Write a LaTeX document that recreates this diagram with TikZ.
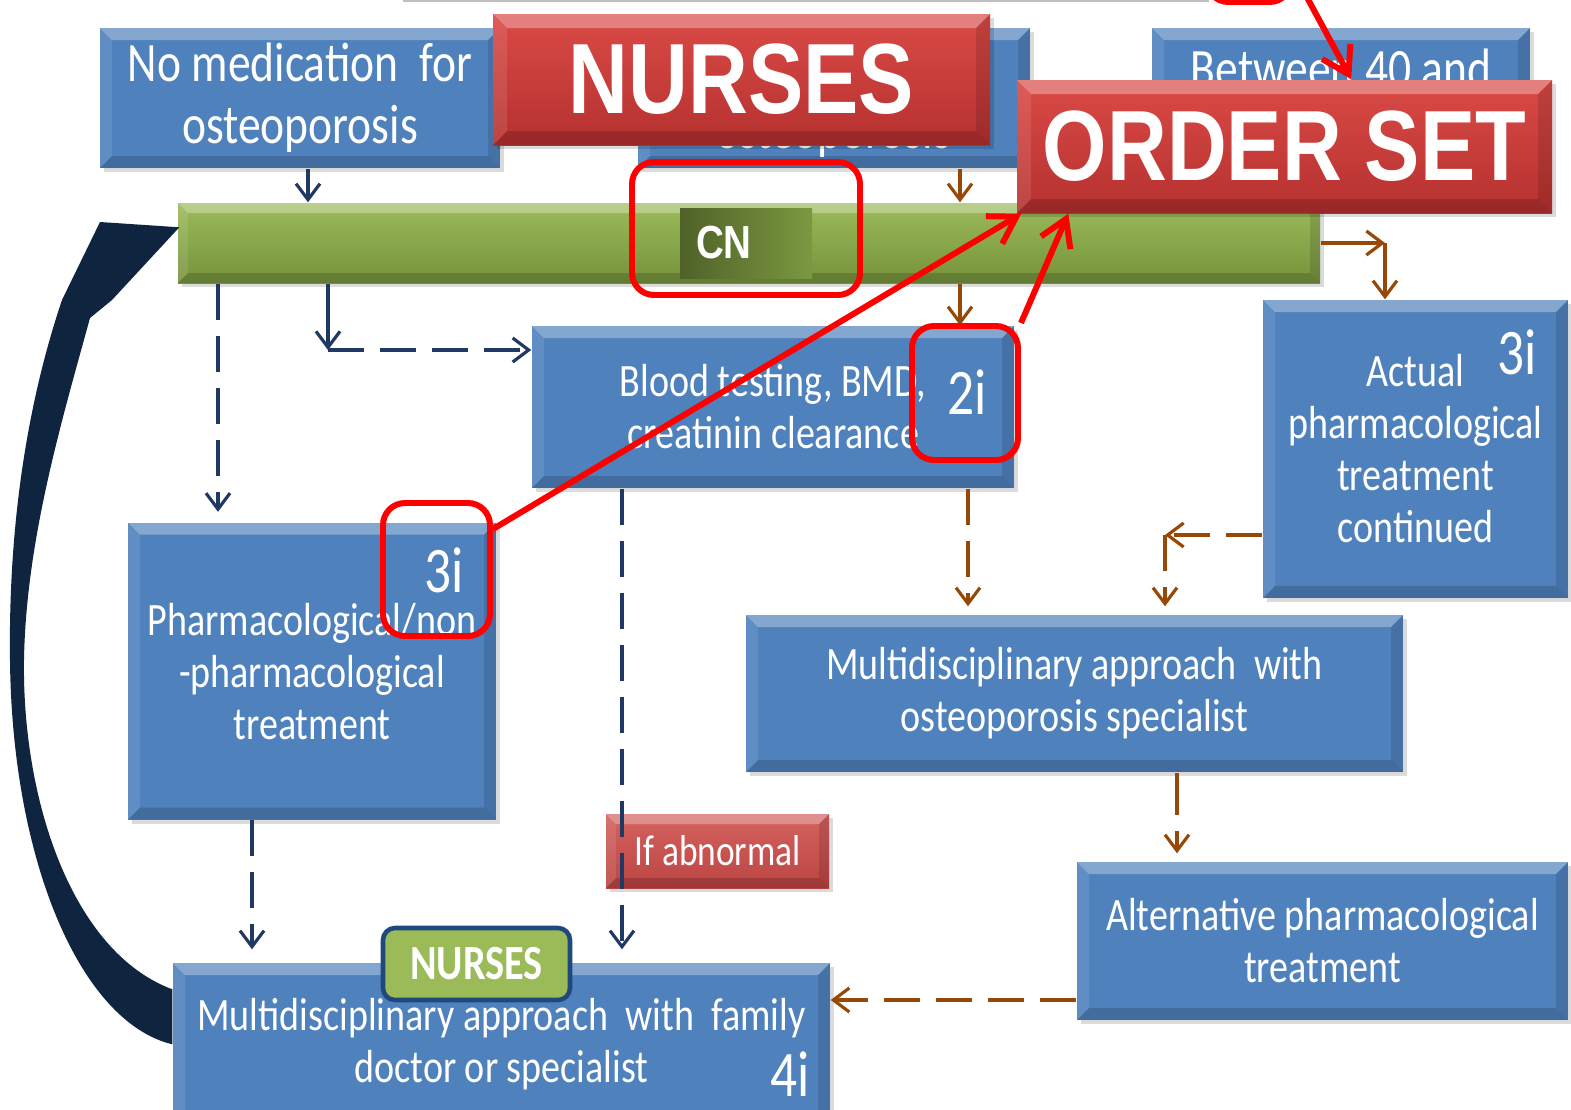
\documentclass[tikz,border=0pt]{standalone}
\usepackage{fontspec}
\setmainfont{Carlito}[FakeStretch=0.82]
\newfontfamily\bannerfont{Liberation Sans}[FakeStretch=0.83]
\usetikzlibrary{arrows.meta, calc, shadows}

\definecolor{boxblue}{HTML}{4F81BD}
\definecolor{bartop}{HTML}{9BBB59}
\definecolor{barbottom}{HTML}{76923C}
\definecolor{cngreen}{HTML}{4F6228}
\definecolor{bannertop}{HTML}{DA4A46}
\definecolor{bannerbottom}{HTML}{B5312F}
\definecolor{notetop}{HTML}{D4625F}
\definecolor{notebottom}{HTML}{BC4542}
\definecolor{flownavy}{HTML}{1F3864}
\definecolor{tagnavy}{HTML}{1F497D}
\definecolor{loopnavy}{HTML}{0F243E}
\definecolor{flowbrown}{HTML}{974806}
\definecolor{markred}{HTML}{FF0000}

\tikzset{
	bevel/.style={path picture={
		\path (path picture bounding box.north west) coordinate (bv-nw)
		      (path picture bounding box.north east) coordinate (bv-ne)
		      (path picture bounding box.south west) coordinate (bv-sw)
		      (path picture bounding box.south east) coordinate (bv-se);
		\fill[white,opacity=.30] (bv-nw) -- (bv-ne) -- ([shift={(-#1,-#1)}]bv-ne) -- ([shift={(#1,-#1)}]bv-nw) -- cycle;
		\fill[white,opacity=.10] (bv-nw) -- ([shift={(#1,-#1)}]bv-nw) -- ([shift={(#1,#1)}]bv-sw) -- (bv-sw) -- cycle;
		\fill[black,opacity=.12] (bv-ne) -- (bv-se) -- ([shift={(-#1,#1)}]bv-se) -- ([shift={(-#1,-#1)}]bv-ne) -- cycle;
		\fill[black,opacity=.16] (bv-sw) -- (bv-se) -- ([shift={(-#1,#1)}]bv-se) -- ([shift={(#1,#1)}]bv-sw) -- cycle;
	}}, % bevelled edges of the slide shapes
	bevel/.default=1.2mm,
	shade/.style={drop shadow={shadow xshift=.35mm, shadow yshift=-.4mm, fill=black, opacity=.14}},
	stage/.style={fill=boxblue, text=white, align=center, inner sep=0pt, bevel, shade,
		font=\fontsize{13.2}{14.8}\selectfont}, % the blue step boxes
	bigstage/.style={stage, font=\fontsize{15.8}{17.6}\selectfont},
	stagetext/.style={text=white, inner sep=0pt, font=\fontsize{15.8}{17.6}\selectfont},
	banner/.style={top color=bannertop, bottom color=bannerbottom, text=white, inner sep=0pt,
		bevel=1.4mm, shade, font=\bannerfont\bfseries\fontsize{28.4}{30}\selectfont},
	stepno/.style={text=white, inner sep=0pt, font=\fontsize{18.5}{20}\selectfont}, % 2i, 3i, 4i
	markring/.style={draw=markred, line width=1.7pt, rounded corners=2.2mm, inner sep=0pt},
	markarrow/.style={draw=markred, line width=1.7pt, -{Straight Barb[length=2.6mm, width=3.2mm]}},
	flow/.style={line width=.9pt, -{Straight Barb[length=1.6mm, width=2.4mm]}},
	navyflow/.style={flow, draw=flownavy},
	brownflow/.style={flow, draw=flowbrown},
	longdash/.style={dash pattern=on 3.6mm off 1.6mm},
}

\begin{document}
\begin{tikzpicture}[x=0.1mm, y=-0.1mm]
	\useasboundingbox (0,0) rectangle (1571,1110);
	\clip (0,0) rectangle (1571,1110);
	\fill[white] (0,0) rectangle (1571,1110);

	% strip of the row above
	\draw[black!25, line width=.6pt] (403,1) -- (1209,1);
	\node[markring, minimum width=8.5mm, minimum height=6mm] (topring) at (1249,-28) {};

	% top row
	\node[bigstage, minimum width=40mm, minimum height=14mm] (nomed) at (300,98) {No medication\ \ for\\osteoporosis};
	\node[bigstage, minimum width=39.2mm, minimum height=14mm] (midtop) at (834,98) {};
	\node[stagetext] (midtoptext) at (833,134) {osteoporosis};
	\node[bigstage, minimum width=37.8mm, minimum height=14mm] (between) at (1341,98) {};
	\node[stagetext] (betweentext) at (1341,68) {Between 40 and};

	% green phase bar
	\node[top color=bartop, bottom color=barbottom, inner sep=0pt, bevel=1mm, shade,
		minimum width=114.2mm, minimum height=8mm] (bar) at (749,243) {};
	\node[left color=cngreen, right color=barbottom!85!bartop, text=white, inner xsep=1.6mm, inner ysep=0pt,
		text width=10mm, align=left, minimum height=7mm, font=\bannerfont\bfseries\fontsize{13.2}{14}\selectfont] (cn) at (746,243) {CN};

	% second and third rows
	\node[stage, minimum width=48.2mm, minimum height=16.2mm] (blood) at (773,407) {Blood testing, BMD,\\creatinin clearance};
	\node[stepno] (step2) at (967,392) {2i};
	\node[stage, minimum width=30.5mm, minimum height=29.8mm] (actual) at (1415.5,449) {Actual\\pharmacological\\treatment\\continued};
	\node[stepno] (step3b) at (1517,352) {3i};
	\node[stage, minimum width=36.8mm, minimum height=29.7mm, text depth=0pt] (pharm) at (312,671) {Pharmacological/non\\-pharmacological\\treatment};
	\node[stepno] (step3a) at (444,570) {3i};
	\node[stage, minimum width=65.7mm, minimum height=15.7mm] (multi) at (1074.5,693.5) {Multidisciplinary approach\ \ with\\osteoporosis specialist};

	% bottom rows
	\node[top color=notetop, bottom color=notebottom, text=white, inner sep=0pt, bevel=1mm, shade,
		minimum width=22.3mm, minimum height=7.4mm, font=\fontsize{12.3}{13}\selectfont] (abnormal) at (717.5,851) {If abnormal};
	\node[stage, minimum width=49.1mm, minimum height=15.8mm] (alt) at (1322.5,941) {Alternative pharmacological\\treatment};
	\node[stage, minimum width=65.7mm, minimum height=16.2mm] (family) at (501.5,1044) {Multidisciplinary approach\ \ with\ \ family\\doctor or specialist};
	\node[stepno] (step4) at (790,1074) {4i};

	% connectors
	\coordinate (nomedcol) at (308,0);
	\coordinate (testcol) at (960,0);
	\coordinate (actualcol) at (1385,0);
	\coordinate (pharmcol) at (218,0);
	\coordinate (bloodturn) at (328,350);
	\coordinate (labcol) at (622,0);
	\coordinate (familycol) at (252,0);
	\coordinate (multicol) at (968,0);
	\coordinate (contturn) at (1165,535);
	\coordinate (altcol) at (1177,0);
	\coordinate (altrow) at (0,1000);

	\draw[navyflow] (nomed.south -| nomedcol) -- (bar.north -| nomedcol);
	\draw[brownflow] (midtop.south -| testcol) -- (bar.north -| testcol);
	\draw[brownflow] (bar.south -| testcol) -- (blood.north -| testcol);
	\draw[brownflow] (bar.east) -- (bar.east -| actualcol);
	\draw[brownflow] (bar.east -| actualcol) -- (actual.north -| actualcol);
	%
	\draw[navyflow, longdash, shorten >=1mm] (bar.south -| pharmcol) -- (pharm.north -| pharmcol);
	\draw[navyflow] (bar.south -| bloodturn) -- (bloodturn);
	\draw[navyflow, longdash] (bloodturn) -- (bloodturn -| blood.west);
	\draw[navyflow, longdash, shorten >=1.3mm] (blood.south -| labcol) -- (family.north -| labcol);
	\draw[navyflow, longdash, shorten >=1.3mm] (pharm.south -| familycol) -- (family.north -| familycol);
	%
	\draw[brownflow, longdash, shorten >=.8mm] (blood.south -| multicol) -- (multi.north -| multicol);
	\draw[brownflow, longdash] (actual.west |- contturn) -- (contturn);
	\draw[brownflow, longdash, shorten >=.8mm] (contturn) -- (multi.north -| contturn);
	\draw[brownflow, dash pattern=on 4.2mm off 1.6mm, shorten >=.8mm] (multi.south -| altcol) -- (alt.north -| altcol);
	\draw[brownflow, longdash] (alt.west |- altrow) -- (family.east |- altrow);

	% feedback loop back to the start of the bar
	\fill[loopnavy]
		($(family.north west)+(0,27)$) .. controls (72,952) and (22,800) .. (24,660)
		.. controls (26,540) and (62,420) .. (90,318) -- (112,300) -- ($(bar.north west)+(2,25)$)
		-- (100,222) -- (62,300) .. controls (35,380) and (8,500) .. (10,660)
		.. controls (12,860) and (80,1022) .. ($(family.north west)+(0,82)$) -- cycle;

	\node[fill=bartop, draw=tagnavy, line width=1.3pt, rounded corners=1.2mm, text=white, inner sep=0pt,
		minimum width=18.7mm, minimum height=7.2mm, font=\bfseries\fontsize{14}{15}\selectfont] (nursetag) at (476.5,964) {NURSES};

	% banners and highlights
	\node[banner, minimum width=49.7mm, minimum height=13.1mm] (nurses) at (741.5,79.5) {NURSES};
	\node[banner, minimum width=53.5mm, minimum height=13.3mm] (orderset) at (1284.5,146.5) {ORDER SET};

	\node[markring, minimum width=22.8mm, minimum height=13.3mm] (cnring) at (746,228.5) {};
	\node[markring, minimum width=10.6mm, minimum height=13.4mm] (ring2) at (965,393) {};
	\node[markring, minimum width=10.7mm, minimum height=13.3mm] (ring3) at (436.5,569.5) {};

	\coordinate (topfeed) at (1303,-10);
	\draw[markarrow] ($(ring3.north east)+(0,29)$) -- ($(orderset.south west)+(5,0)$);
	\draw[markarrow] (ring2.north east) -- ($(orderset.south west)+(52,0)$);
	\draw[markarrow] (topfeed) -- ($(orderset.north west)+(335,0)$);
\end{tikzpicture}
\end{document}
